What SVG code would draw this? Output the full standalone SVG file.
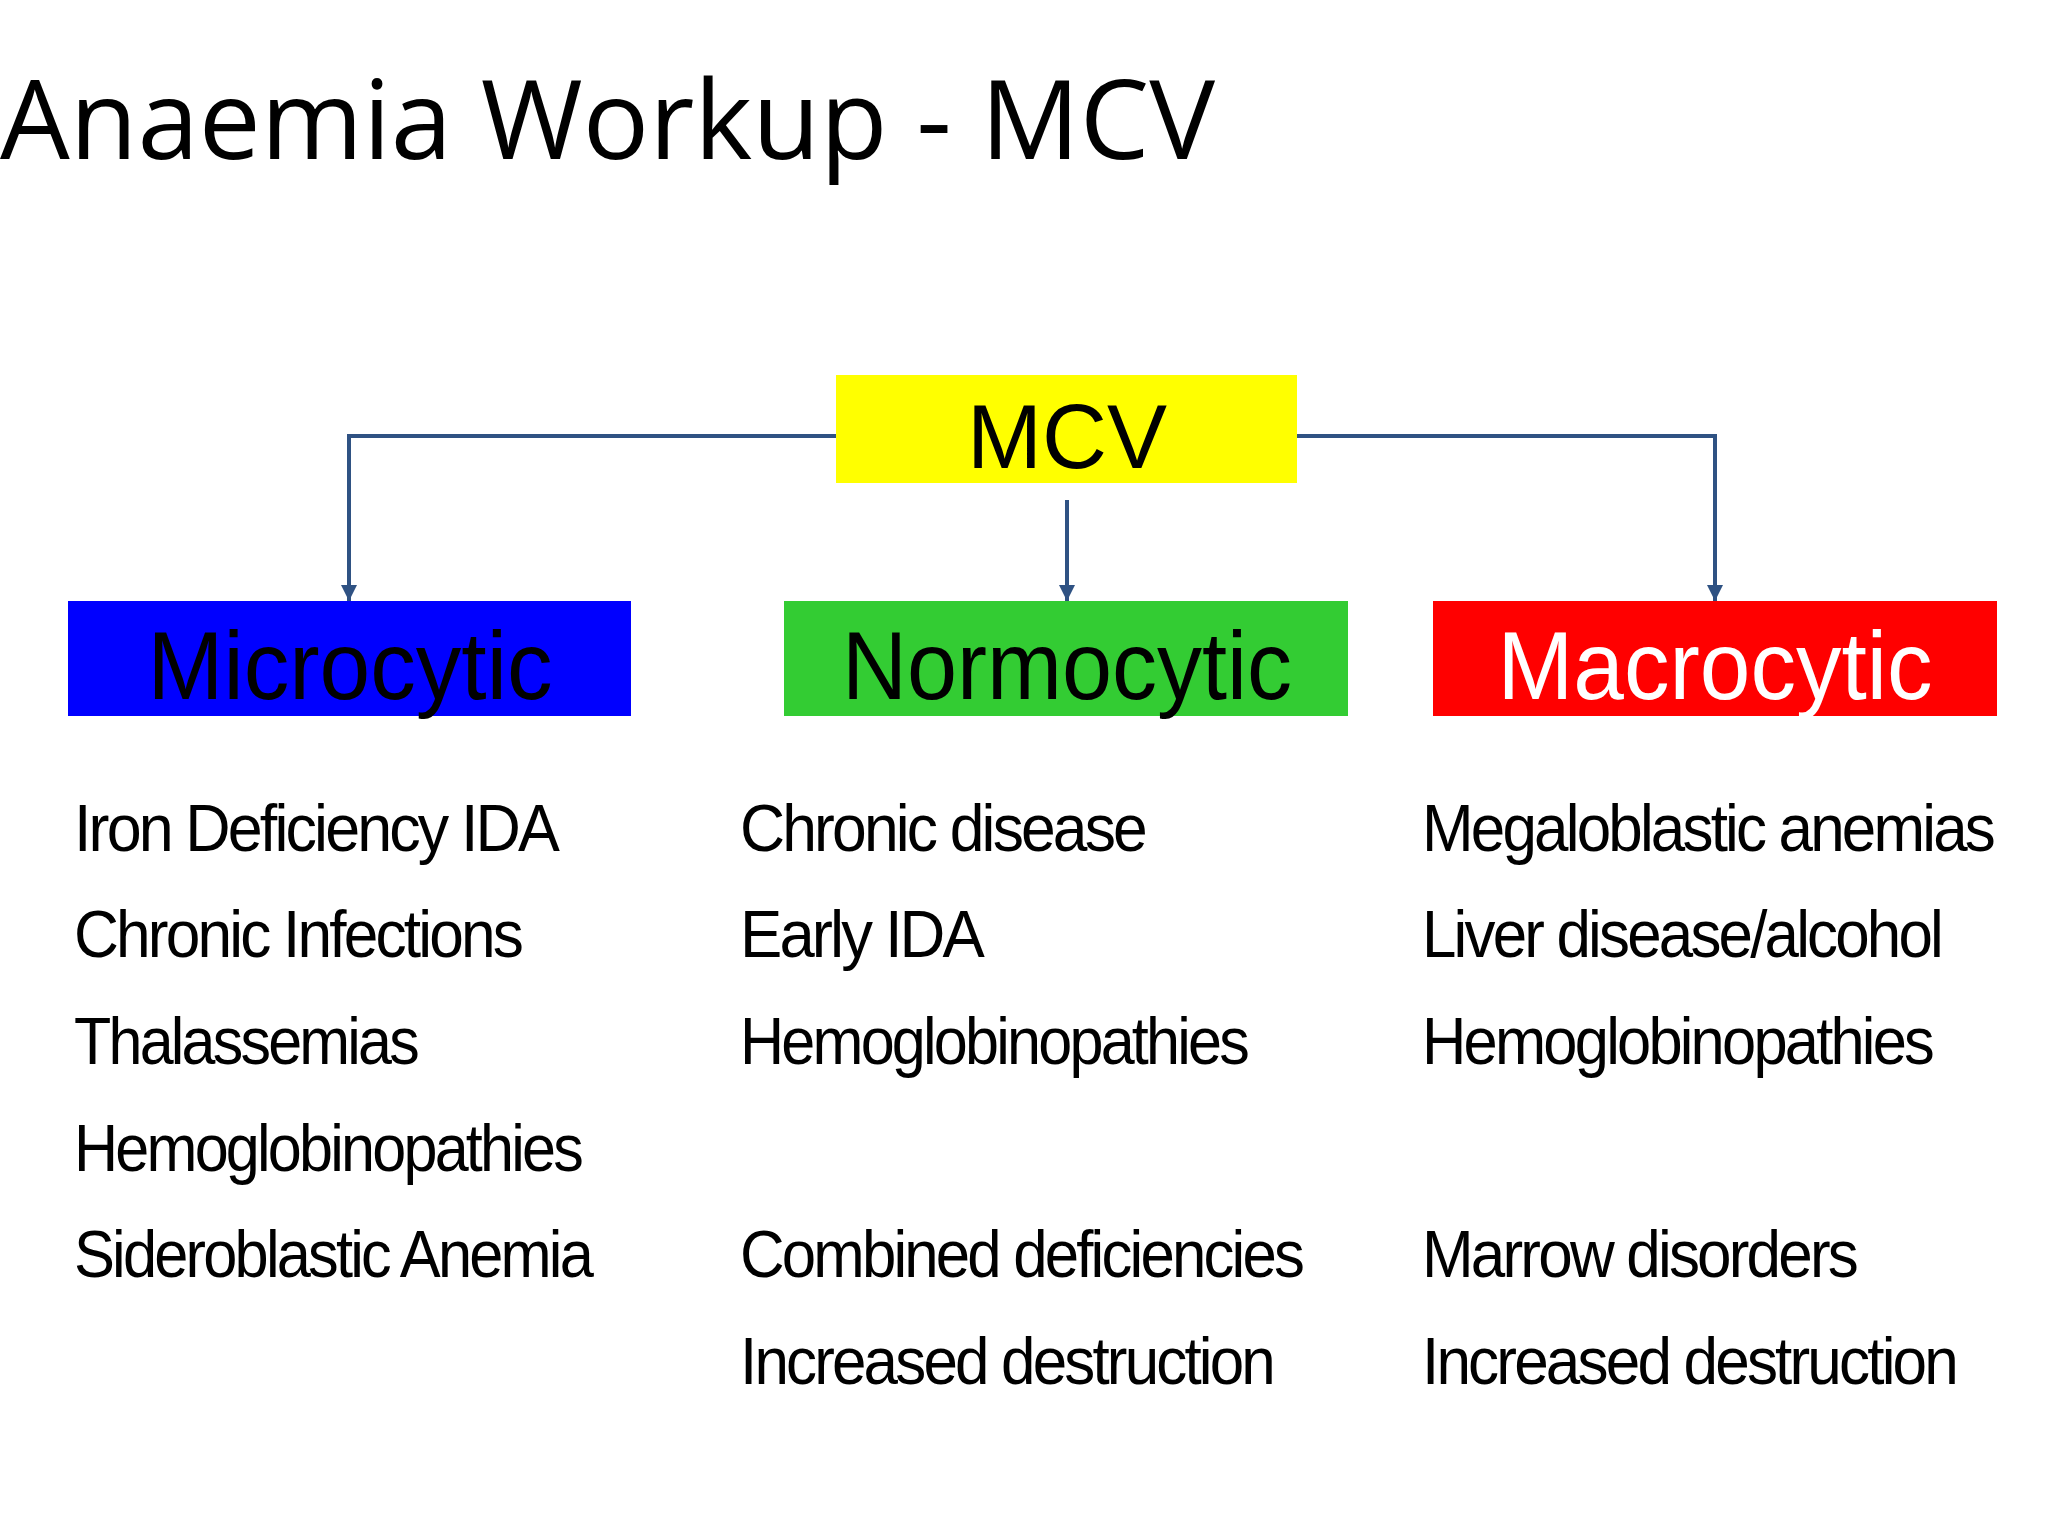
<svg xmlns="http://www.w3.org/2000/svg" width="2048" height="1536" viewBox="0 0 2048 1536">
<defs>
<style>
.t{font-family:"Liberation Sans",Arial,sans-serif;fill:#000}
.li{font-size:66px;letter-spacing:-3px}
.hd{font-size:96px;text-anchor:middle}
.c{stroke:#2F5283;stroke-width:4;fill:none}
</style>
<marker id="a" viewBox="0 0 10 10" refX="10" refY="5" markerWidth="4" markerHeight="5" orient="auto" markerUnits="strokeWidth"><path d="M0,0L10,5L0,10z" fill="#2F5283"/></marker>
</defs>
<rect width="2048" height="1536" fill="#fff"/>
<text x="0" y="159" font-family="'Open Sans',sans-serif" font-size="110" textLength="1215" lengthAdjust="spacingAndGlyphs">Anaemia Workup - MCV</text>
<g id="connectors">
<path class="c" d="M836,436H349V601" marker-end="url(#a)"/>
<path class="c" d="M1297,436H1715V601" marker-end="url(#a)"/>
<path class="c" d="M1067,500V601" marker-end="url(#a)"/>
</g>
<g id="mcv"><rect x="836" y="375" width="461" height="108" fill="#FFFF00"/><text class="t" x="1067" y="468" font-size="90" text-anchor="middle">MCV</text></g>
<g id="micro"><rect x="68" y="601" width="563" height="115" fill="#0000FF"/><text class="t hd" x="350" y="699" textLength="405" lengthAdjust="spacingAndGlyphs">Microcytic</text></g>
<g id="normo"><rect x="784" y="601" width="564" height="115" fill="#33CC33"/><text class="t hd" x="1067" y="699" textLength="450" lengthAdjust="spacingAndGlyphs">Normocytic</text></g>
<g id="macro"><rect x="1433" y="601" width="564" height="115" fill="#FF0000"/><text class="t hd" x="1715" y="699" textLength="435" lengthAdjust="spacingAndGlyphs" style="fill:#fff">Macrocytic</text></g>
<g id="micro-list" class="t li">
<text x="74" y="851" textLength="483" lengthAdjust="spacingAndGlyphs">Iron Deficiency IDA</text>
<text x="74" y="957" textLength="447" lengthAdjust="spacingAndGlyphs">Chronic Infections</text>
<text x="74" y="1064" textLength="343" lengthAdjust="spacingAndGlyphs">Thalassemias</text>
<text x="74" y="1171" textLength="507" lengthAdjust="spacingAndGlyphs">Hemoglobinopathies</text>
<text x="74" y="1277" textLength="517" lengthAdjust="spacingAndGlyphs">Sideroblastic Anemia</text>
</g>
<g id="normo-list" class="t li">
<text x="740" y="851" textLength="405" lengthAdjust="spacingAndGlyphs">Chronic disease</text>
<text x="740" y="957" textLength="242" lengthAdjust="spacingAndGlyphs">Early IDA</text>
<text x="740" y="1064" textLength="507" lengthAdjust="spacingAndGlyphs">Hemoglobinopathies</text>
<text x="740" y="1277" textLength="562" lengthAdjust="spacingAndGlyphs">Combined deficiencies</text>
<text x="740" y="1384" textLength="533" lengthAdjust="spacingAndGlyphs">Increased destruction</text>
</g>
<g id="macro-list" class="t li">
<text x="1422" y="851" textLength="571" lengthAdjust="spacingAndGlyphs">Megaloblastic anemias</text>
<text x="1422" y="957" textLength="519" lengthAdjust="spacingAndGlyphs">Liver disease/alcohol</text>
<text x="1422" y="1064" textLength="510" lengthAdjust="spacingAndGlyphs">Hemoglobinopathies</text>
<text x="1422" y="1277" textLength="434" lengthAdjust="spacingAndGlyphs">Marrow disorders</text>
<text x="1422" y="1384" textLength="534" lengthAdjust="spacingAndGlyphs">Increased destruction</text>
</g>
</svg>
